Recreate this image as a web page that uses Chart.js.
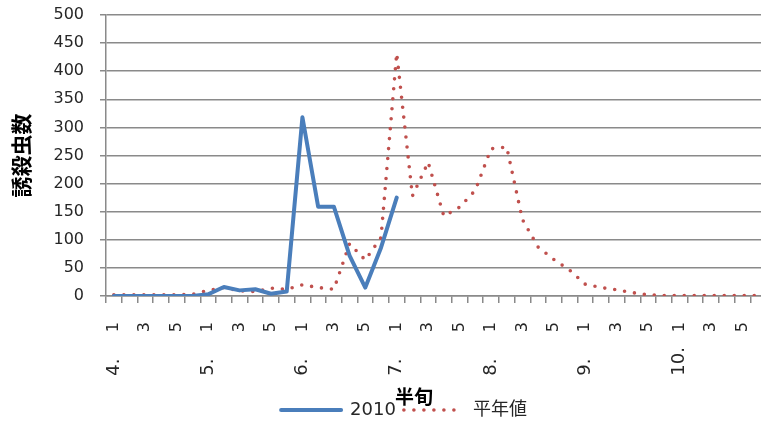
<!DOCTYPE html>
<html lang="ja">
<head>
<meta charset="utf-8">
<title>誘殺虫数</title>
<script src="https://cdn.jsdelivr.net/npm/chart.js@4/dist/chart.umd.min.js"></script>
<style>
  html, body { margin: 0; padding: 0; overflow: hidden; background: #fff; }
  #frame { width: 761px; height: 425px; overflow: hidden; position: relative; }
  #c { display: block; }
</style>
</head>
<body>
<div id="frame"><canvas id="c" width="800" height="429" style="width:800px;height:429px"></canvas></div>
<script>
// Months (first label row) and half-month periods (second label row)
const monthLabels = ['4.', '5.', '6.', '7.', '8.', '9.', '10.'];
const halfLabels = ['1', '2', '3', '4', '5', '6'];

// One category per half-month period: 4.1 ... 10.6
const categories = [];
monthLabels.forEach(m => halfLabels.forEach(h => categories.push(m + h)));

// Trap counts, 2010 season (ends at 7.1)
const counts2010 = [
  0, 0, 0, 0, 0, 0,
  3, 16, 10, 12, 4, 8,
  318, 159, 159, 72, 15, 86,
  175, null, null, null, null, null,
  null, null, null, null, null, null,
  null, null, null, null, null, null,
  null, null, null, null, null, null
];

// Trap counts, normal-year average
const countsNormal = [
  2, 2, 2, 2, 2, 3,
  10, 15, 9, 8, 14, 12,
  20, 15, 12, 93, 64, 104,
  432, 178, 238, 142, 158, 188,
  262, 265, 136, 87, 65, 46,
  21, 15, 11, 6, 2, 1,
  1, 1, 1, 1, 1, 1
];

const seriesNames = ['2010', '平年値'];

const axisGray = '#8a8a8a';
const textColor = '#262626';
const latinFont = '"DejaVu Sans", "Noto Sans CJK JP", sans-serif';
const cjkFont = '"Noto Sans CJK JP", "DejaVu Sans", sans-serif';

// Moves the bottom title and legend sideways after the layout pass
const boxNudge = {
  id: 'boxNudge',
  afterLayout(chart, args, opts) {
    const move = (box, dx) => { if (box && dx) { box.left += dx; box.right += dx; } };
    move(chart.legend, opts.legendDx);
    move(chart.titleBlock, opts.titleDx);
  }
};

new Chart(document.getElementById('c'), {
  type: 'line',
  data: {
    labels: categories,
    datasets: [
      {
        label: seriesNames[0],
        data: counts2010,
        xAxisID: 'x',
        borderColor: '#4a7ebb',
        backgroundColor: '#4a7ebb',
        borderWidth: 4,
        borderJoinStyle: 'round',
        borderCapStyle: 'round',
        pointRadius: 0,
        pointHoverRadius: 0,
        tension: 0,
        spanGaps: false,
        order: 1
      },
      {
        label: seriesNames[1],
        data: countsNormal,
        xAxisID: 'x',
        borderColor: '#c0504d',
        backgroundColor: '#c0504d',
        borderWidth: 3.6,
        borderDash: [0, 10],
        borderCapStyle: 'round',
        borderJoinStyle: 'round',
        pointRadius: 0,
        pointHoverRadius: 0,
        tension: 0,
        order: 2
      }
    ]
  },
  plugins: [boxNudge],
  options: {
    responsive: false,
    animation: false,
    devicePixelRatio: 1,
    layout: { padding: { top: 15, left: 0, right: 34, bottom: 0 } },
    scales: {
      y: {
        min: 0,
        max: 500,
        afterFit(scale) {
          scale.width = 106;
          // labels may overhang the plot area at the ends
          scale.paddingTop = 0;
          scale.paddingBottom = 0;
        },
        ticks: {
          stepSize: 50,
          padding: 16,
          color: textColor,
          font: { family: latinFont, size: 16 }
        },
        grid: { color: axisGray, lineWidth: 1.5, tickLength: 6, drawTicks: true },
        border: { display: true, color: axisGray, width: 1.5 },
        title: {
          display: true,
          text: '誘殺虫数',
          color: '#000',
          padding: { top: 8, bottom: 0 },
          font: { family: cjkFont, size: 21, weight: 'bold' }
        }
      },
      x: {
        type: 'category',
        position: 'bottom',
        weight: 0,
        offset: true,
        afterFit(scale) {
          scale.height = 41;
          scale.paddingLeft = 0;
          scale.paddingRight = 0;
        },
        grid: {
          offset: true,
          drawOnChartArea: false,
          drawTicks: true,
          tickLength: 7,
          color: axisGray,
          lineWidth: 1.5
        },
        border: { display: true, color: axisGray, width: 1.5 },
        ticks: {
          autoSkip: false,
          minRotation: 90,
          maxRotation: 90,
          padding: 19,
          color: textColor,
          font: { family: latinFont, size: 16 },
          callback: (value, index) => {
            const h = index % 6;
            return h % 2 === 0 ? halfLabels[h] : '';
          }
        }
      },
      xMonth: {
        type: 'category',
        position: 'bottom',
        weight: 1,
        offset: true,
        afterFit(scale) {
          scale.height = 44;
          scale.paddingLeft = 0;
          scale.paddingRight = 0;
        },
        grid: { display: false, drawTicks: false, drawOnChartArea: false },
        border: { display: false },
        ticks: {
          autoSkip: false,
          minRotation: 90,
          maxRotation: 90,
          padding: 10,
          color: textColor,
          font: { family: latinFont, size: 18 },
          callback: (value, index) => {
            if (index % 6 !== 0) return '';
            const m = monthLabels[index / 6];
            // pad short month labels with a figure space so every label ends on the same line
            return m.length < 3 ? m + '\u2007' : m;
          }
        }
      }
    },
    plugins: {
      boxNudge: { legendDx: 21, titleDx: 31 },
      title: {
        display: true,
        text: '半旬',
        position: 'bottom',
        weight: 500,
        color: '#000',
        padding: { top: 6.5, bottom: -13.5 },
        font: { family: cjkFont, size: 19, weight: 'bold', lineHeight: 1 }
      },
      legend: {
        display: true,
        position: 'bottom',
        labels: {
          usePointStyle: true,
          pointStyle: 'line',
          pointStyleWidth: 60,
          padding: 8,
          color: textColor,
          font: { family: latinFont, size: 18 },
          // legend samples take the line style (width, dash, cap) of each dataset
          generateLabels(chart) {
            const items = Chart.defaults.plugins.legend.labels.generateLabels(chart);
            items.forEach(item => {
              const ds = chart.data.datasets[item.datasetIndex];
              item.pointStyle = 'line';
              item.lineWidth = ds.borderWidth;
              item.lineDash = ds.borderDash || [];
              item.lineCap = ds.borderCapStyle || 'butt';
              item.strokeStyle = ds.borderColor;
            });
            return items;
          }
        }
      },
      tooltip: { enabled: false }
    }
  }
});
</script>
</body>
</html>
